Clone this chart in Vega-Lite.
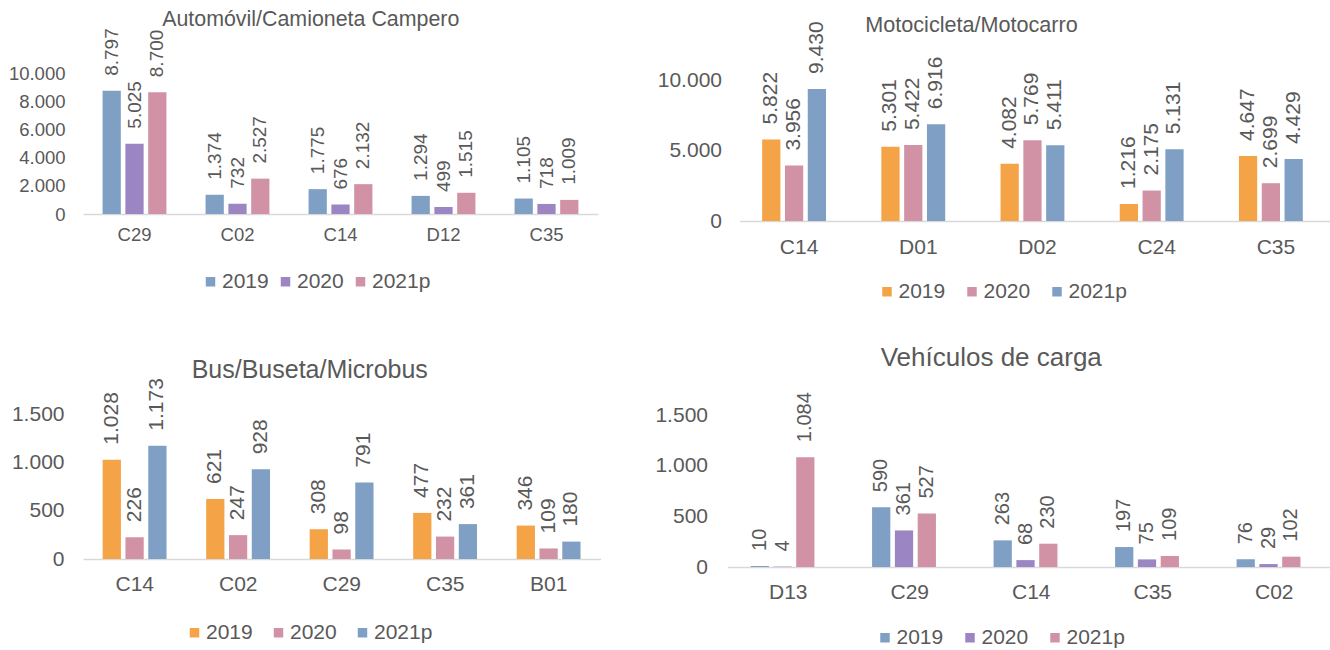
{
  "$schema": "https://vega.github.io/schema/vega-lite/v6.json",
  "padding": {"left": 8, "top": 8, "right": 0, "bottom": 0},
  "datasets": {
    "p1": [
      {"cat": "C29", "year": "2019", "value": 8797}, {"cat": "C29", "year": "2020", "value": 5025}, {"cat": "C29", "year": "2021p", "value": 8700},
      {"cat": "C02", "year": "2019", "value": 1374}, {"cat": "C02", "year": "2020", "value": 732}, {"cat": "C02", "year": "2021p", "value": 2527},
      {"cat": "C14", "year": "2019", "value": 1775}, {"cat": "C14", "year": "2020", "value": 676}, {"cat": "C14", "year": "2021p", "value": 2132},
      {"cat": "D12", "year": "2019", "value": 1294}, {"cat": "D12", "year": "2020", "value": 499}, {"cat": "D12", "year": "2021p", "value": 1515},
      {"cat": "C35", "year": "2019", "value": 1105}, {"cat": "C35", "year": "2020", "value": 718}, {"cat": "C35", "year": "2021p", "value": 1009}
    ],
    "p2": [
      {"cat": "C14", "year": "2019", "value": 5822}, {"cat": "C14", "year": "2020", "value": 3956}, {"cat": "C14", "year": "2021p", "value": 9430},
      {"cat": "D01", "year": "2019", "value": 5301}, {"cat": "D01", "year": "2020", "value": 5422}, {"cat": "D01", "year": "2021p", "value": 6916},
      {"cat": "D02", "year": "2019", "value": 4082}, {"cat": "D02", "year": "2020", "value": 5769}, {"cat": "D02", "year": "2021p", "value": 5411},
      {"cat": "C24", "year": "2019", "value": 1216}, {"cat": "C24", "year": "2020", "value": 2175}, {"cat": "C24", "year": "2021p", "value": 5131},
      {"cat": "C35", "year": "2019", "value": 4647}, {"cat": "C35", "year": "2020", "value": 2699}, {"cat": "C35", "year": "2021p", "value": 4429}
    ],
    "p3": [
      {"cat": "C14", "year": "2019", "value": 1028}, {"cat": "C14", "year": "2020", "value": 226}, {"cat": "C14", "year": "2021p", "value": 1173},
      {"cat": "C02", "year": "2019", "value": 621}, {"cat": "C02", "year": "2020", "value": 247}, {"cat": "C02", "year": "2021p", "value": 928},
      {"cat": "C29", "year": "2019", "value": 308}, {"cat": "C29", "year": "2020", "value": 98}, {"cat": "C29", "year": "2021p", "value": 791},
      {"cat": "C35", "year": "2019", "value": 477}, {"cat": "C35", "year": "2020", "value": 232}, {"cat": "C35", "year": "2021p", "value": 361},
      {"cat": "B01", "year": "2019", "value": 346}, {"cat": "B01", "year": "2020", "value": 109}, {"cat": "B01", "year": "2021p", "value": 180}
    ],
    "p4": [
      {"cat": "D13", "year": "2019", "value": 10}, {"cat": "D13", "year": "2020", "value": 4}, {"cat": "D13", "year": "2021p", "value": 1084},
      {"cat": "C29", "year": "2019", "value": 590}, {"cat": "C29", "year": "2020", "value": 361}, {"cat": "C29", "year": "2021p", "value": 527},
      {"cat": "C14", "year": "2019", "value": 263}, {"cat": "C14", "year": "2020", "value": 68}, {"cat": "C14", "year": "2021p", "value": 230},
      {"cat": "C35", "year": "2019", "value": 197}, {"cat": "C35", "year": "2020", "value": 75}, {"cat": "C35", "year": "2021p", "value": 109},
      {"cat": "C02", "year": "2019", "value": 76}, {"cat": "C02", "year": "2020", "value": 29}, {"cat": "C02", "year": "2021p", "value": 102}
    ]
  },
  "columns": 2,
  "align": "none",
  "bounds": "flush",
  "spacing": {"row": 174, "column": 126.5},
  "concat": [
    {
      "title": {"text": "Automóvil/Camioneta Campero", "fontSize": 21.4, "dx": -37, "offset": -2},
      "width": 529.5, "height": 180,
      "data": {"name": "p1"},
      "encoding": {
        "x": {"field": "cat", "type": "nominal", "sort": null, "scale": {"range": [0, 515], "paddingInner": 0.38, "paddingOuter": 0.19}, "axis": {"labelFontSize": 18.5, "labelPadding": 11}},
        "xOffset": {"field": "year", "type": "nominal", "scale": {"paddingInner": 0.2, "paddingOuter": 0}},
        "y": {"field": "value", "type": "quantitative", "scale": {"domain": [0, 12857], "nice": false, "zero": true}, "axis": {"values": [0, 2000, 4000, 6000, 8000, 10000], "format": ",d", "labelFontSize": 18.5, "labelPadding": 18}}
      },
      "layer": [
        {"mark": {"type": "bar"}, "encoding": {"color": {"field": "year", "type": "nominal", "scale": {"domain": ["2019", "2020", "2021p"], "range": ["#7f9fc4", "#9b85c3", "#d292a6"]}, "legend": {"orient": "none", "direction": "horizontal", "legendX": 117, "legendY": 237, "labelFontSize": 21, "columnPadding": 6}}}},
        {"mark": {"type": "text", "angle": 270, "align": "left", "baseline": "middle", "dx": 15, "fontSize": 19, "color": "#595959", "font": "Liberation Sans"}, "encoding": {"text": {"field": "value", "type": "quantitative", "format": ",d"}}}
      ]
    },
    {
      "title": {"text": "Motocicleta/Motocarro", "fontSize": 21.6, "dx": -66, "offset": -15},
      "width": 596, "height": 187,
      "data": {"name": "p2"},
      "encoding": {
        "x": {"field": "cat", "type": "nominal", "sort": null, "scale": {"paddingInner": 0.38, "paddingOuter": 0.19}, "axis": {"labelFontSize": 21, "labelPadding": 15}},
        "xOffset": {"field": "year", "type": "nominal", "scale": {"paddingInner": 0.2, "paddingOuter": 0}},
        "y": {"field": "value", "type": "quantitative", "scale": {"domain": [0, 13357], "nice": false, "zero": true}, "axis": {"values": [0, 5000, 10000], "format": ",d", "labelFontSize": 21, "labelPadding": 18}}
      },
      "layer": [
        {"mark": {"type": "bar"}, "encoding": {"color": {"field": "year", "type": "nominal", "scale": {"domain": ["2019", "2020", "2021p"], "range": ["#f4a346", "#d292a6", "#7f9fc4"]}, "legend": {"orient": "none", "direction": "horizontal", "legendX": 137, "legendY": 247, "labelFontSize": 21, "columnPadding": 16}}}},
        {"mark": {"type": "text", "angle": 270, "align": "left", "baseline": "middle", "dx": 15, "fontSize": 21, "color": "#595959", "font": "Liberation Sans"}, "encoding": {"text": {"field": "value", "type": "quantitative", "format": ",d"}}}
      ]
    },
    {
      "title": {"text": "Bus/Buseta/Microbus", "fontSize": 25, "dx": -32, "offset": -5},
      "width": 517.5, "height": 164,
      "data": {"name": "p3"},
      "encoding": {
        "x": {"field": "cat", "type": "nominal", "sort": null, "scale": {"paddingInner": 0.38, "paddingOuter": 0.19}, "axis": {"labelFontSize": 21, "labelPadding": 14}},
        "xOffset": {"field": "year", "type": "nominal", "scale": {"paddingInner": 0.2, "paddingOuter": 0}},
        "y": {"field": "value", "type": "quantitative", "scale": {"domain": [0, 1697], "nice": false, "zero": true}, "axis": {"values": [0, 500, 1000, 1500], "format": ",d", "labelFontSize": 21, "labelPadding": 19}}
      },
      "layer": [
        {"mark": {"type": "bar"}, "encoding": {"color": {"field": "year", "type": "nominal", "scale": {"domain": ["2019", "2020", "2021p"], "range": ["#f4a346", "#d292a6", "#7f9fc4"]}, "legend": {"orient": "none", "direction": "horizontal", "legendX": 101, "legendY": 227, "labelFontSize": 21, "columnPadding": 15}}}},
        {"mark": {"type": "text", "angle": 270, "align": "left", "baseline": "middle", "dx": 15, "fontSize": 21, "color": "#595959", "font": "Liberation Sans"}, "encoding": {"text": {"field": "value", "type": "quantitative", "format": ",d"}}}
      ]
    },
    {
      "title": {"text": "Vehículos de carga", "fontSize": 26, "dx": -46, "offset": 21},
      "width": 595.5, "height": 172,
      "data": {"name": "p4"},
      "encoding": {
        "x": {"field": "cat", "type": "nominal", "sort": null, "scale": {"range": [-12, 595.5], "paddingInner": 0.38, "paddingOuter": 0.19}, "axis": {"labelFontSize": 21, "labelPadding": 14}},
        "xOffset": {"field": "year", "type": "nominal", "scale": {"paddingInner": 0.2, "paddingOuter": 0}},
        "y": {"field": "value", "type": "quantitative", "scale": {"domain": [0, 1698], "nice": false, "zero": true}, "axis": {"values": [0, 500, 1000, 1500], "format": ",d", "labelFontSize": 21, "labelPadding": 32}}
      },
      "layer": [
        {"mark": {"type": "bar"}, "encoding": {"color": {"field": "year", "type": "nominal", "scale": {"domain": ["2019", "2020", "2021p"], "range": ["#7f9fc4", "#9b85c3", "#d292a6"]}, "legend": {"orient": "none", "direction": "horizontal", "legendX": 135, "legendY": 232, "labelFontSize": 21, "columnPadding": 16}}}},
        {"mark": {"type": "text", "angle": 270, "align": "left", "baseline": "middle", "dx": 15, "fontSize": 20, "color": "#595959", "font": "Liberation Sans"}, "encoding": {"text": {"field": "value", "type": "quantitative", "format": ",d"}}}
      ]
    }
  ],
  "resolve": {"scale": {"color": "independent"}, "legend": {"color": "independent"}},
  "config": {
    "locale": {"number": {"decimal": ",", "thousands": ".", "grouping": [3], "currency": ["$", ""]}},
    "view": {"stroke": null},
    "font": "Liberation Sans",
    "title": {"font": "Liberation Sans", "fontWeight": "normal", "color": "#595959", "anchor": "middle", "frame": "group", "baseline": "alphabetic"},
    "axis": {"labelFont": "Liberation Sans", "labelColor": "#595959", "grid": false, "ticks": false, "title": null},
    "axisX": {"domainColor": "#d9d9d9", "domainWidth": 1.5, "labelAngle": 0},
    "axisY": {"domain": false},
    "legend": {"title": null, "symbolType": "square", "symbolSize": 90, "symbolStrokeWidth": 0, "labelFont": "Liberation Sans", "labelColor": "#595959", "labelOffset": 1}
  }
}
